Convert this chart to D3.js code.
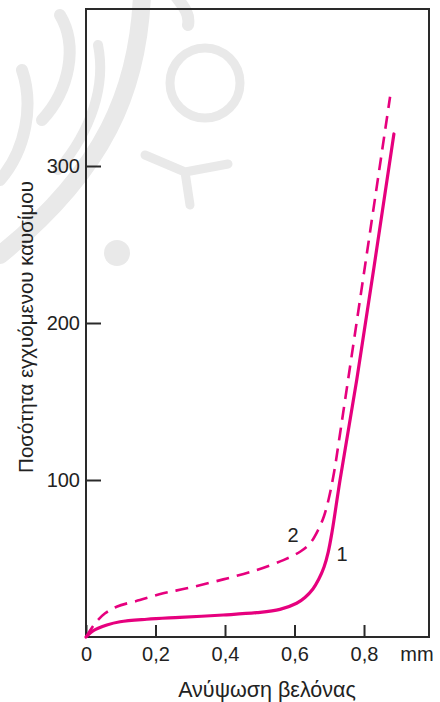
<!DOCTYPE html>
<html>
<head>
<meta charset="utf-8">
<script src="https://cdn.jsdelivr.net/npm/d3@7"></script>
<style>
  html, body { margin: 0; padding: 0; background: #fff; }
  svg text { font-family: "Liberation Sans", Arial, Helvetica, sans-serif; fill: #222; }
</style>
</head>
<body>
<svg id="chart" width="440" height="702"></svg>
<script>
// ---- data ----
const lift1 = [0, 0.021, 0.060, 0.098, 0.175, 0.27, 0.395, 0.491, 0.558, 0.606, 0.630, 0.653, 0.670, 0.685, 0.697, 0.708, 0.731, 0.779, 0.886];
const fuel1 = [0, 4.0, 7.6, 9.7, 11.3, 12.5, 14.0, 15.5, 17.6, 21.5, 25.2, 30.6, 36.9, 44.6, 54.1, 66.9, 100, 163.7, 320.4];
const lift2 = [0, 0.026, 0.055, 0.088, 0.155, 0.222, 0.290, 0.395, 0.491, 0.568, 0.616, 0.645, 0.668, 0.685, 0.699, 0.714, 0.731, 0.875];
const fuel2 = [0, 8.7, 15.1, 19.3, 23.5, 27.8, 31.0, 36.7, 42.6, 49.0, 54.3, 59.7, 68.2, 77.1, 88.5, 105.1, 129.5, 344.1];
const xTicks = [0, 0.2, 0.4, 0.6, 0.8];
const xTickLabels = ["0", "0,2", "0,4", "0,6", "0,8"];
const yTicks = [100, 200, 300];
const yTickLabels = ["100", "200", "300"];
const curveNames = ["1", "2"];
const curveLabelX = [0.737, 0.596];
const curveLabelY = [52.8, 64.9];
const xUnit = "mm";
const xTitle = "Ανύψωση βελόνας";
const yTitle = "Ποσότητα εγχυόμενου καυσίμου";

// ---- layout ----
const L = 86, R = 429, T = 9, B = 637;
const color = "#e6007e";
const svg = d3.select("#chart");

// faint background watermark (decoration)
const wmc = "#e9e9e9";
const wm = svg.append("g").attr("class", "watermark")
  .attr("fill", "none").attr("stroke", wmc).attr("stroke-linecap", "round");
wm.append("path").attr("d", "M142,-5 C138,90 105,170 0,255").attr("stroke-width", 18);
wm.append("path").attr("d", "M175,-5 C185,8 190,15 188,25").attr("stroke-width", 12);
wm.append("path").attr("d", "M60,15 C78,45 70,90 42,120").attr("stroke-width", 12);
wm.append("path").attr("d", "M98,45 C106,85 92,130 58,170").attr("stroke-width", 10);
wm.append("path").attr("d", "M22,70 C34,105 26,150 0,180").attr("stroke-width", 12);
wm.append("circle").attr("cx", 205).attr("cy", 83).attr("r", 35).attr("stroke-width", 9);
wm.append("path").attr("d", "M145,155 L185,172 L228,164 M185,172 L190,205").attr("stroke-width", 9);
wm.append("circle").attr("cx", 117).attr("cy", 253).attr("r", 13).attr("fill", wmc).attr("stroke", "none");

const x = d3.scaleLinear().domain([0, 0.987]).range([L, R]);
const y = d3.scaleLinear().domain([0, 400]).range([B, T]);

// frame
svg.append("rect").attr("x", L).attr("y", T).attr("width", R - L).attr("height", B - T)
  .attr("fill", "none").attr("stroke", "#2a2a2a").attr("stroke-width", 2);

// axes
const xAxis = d3.axisBottom(x).tickValues(xTicks)
  .tickFormat((d, i) => xTickLabels[i]).tickSize(-12).tickPadding(10);
const gx = svg.append("g").attr("transform", `translate(0,${B})`).call(xAxis);
gx.select(".domain").remove();
gx.selectAll(".tick line").attr("stroke", "#2a2a2a").attr("stroke-width", 2);
gx.selectAll(".tick text").attr("font-size", 20).attr("fill", "#222");

const yAxis = d3.axisLeft(y).tickValues(yTicks)
  .tickFormat((d, i) => yTickLabels[i]).tickSize(-15).tickPadding(6);
const gy = svg.append("g").attr("transform", `translate(${L},0)`).call(yAxis);
gy.select(".domain").remove();
gy.selectAll(".tick line").attr("stroke", "#2a2a2a").attr("stroke-width", 2);
gy.selectAll(".tick text").attr("font-size", 20).attr("fill", "#222");

// unit label
svg.append("text").attr("x", 417).attr("y", B + 10).attr("dy", "0.71em")
  .attr("text-anchor", "middle").attr("font-size", 20).text(xUnit);

// titles
svg.append("text").attr("x", 267).attr("y", 697)
  .attr("text-anchor", "middle").attr("font-size", 21.5).text(xTitle);
svg.append("text").attr("transform", `translate(33,327) rotate(-90)`)
  .attr("text-anchor", "middle").attr("font-size", 20.5).text(yTitle);

// lines
const line = d3.line().x(d => x(d[0])).y(d => y(d[1])).curve(d3.curveCatmullRom.alpha(0.5));
const s1 = lift1.map((v, i) => [v, fuel1[i]]);
const s2 = lift2.map((v, i) => [v, fuel2[i]]);

svg.append("path").datum(s2).attr("d", line)
  .attr("fill", "none").attr("stroke", color).attr("stroke-width", 2.6)
  .attr("stroke-dasharray", "13,8");
svg.append("path").datum(s1).attr("d", line)
  .attr("fill", "none").attr("stroke", color).attr("stroke-width", 3.2)
  .attr("stroke-linecap", "round");

// curve labels
svg.selectAll("text.clabel").data(curveNames).enter().append("text")
  .attr("class", "clabel")
  .attr("x", (d, i) => x(curveLabelX[i])).attr("y", (d, i) => y(curveLabelY[i]))
  .attr("text-anchor", "middle").attr("dominant-baseline", "central")
  .attr("font-size", 20).text(d => d);
</script>
</body>
</html>
